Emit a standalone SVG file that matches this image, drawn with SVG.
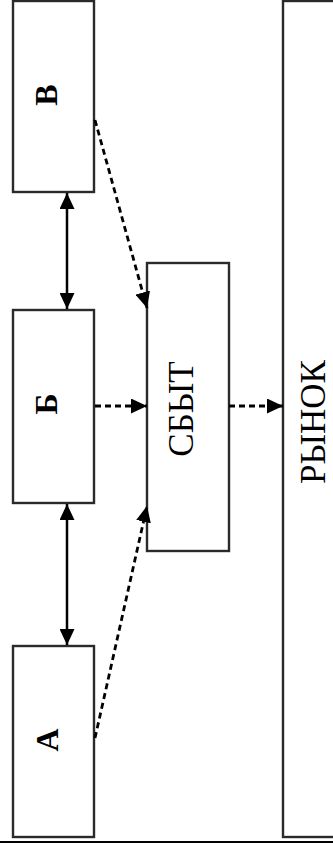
<svg xmlns="http://www.w3.org/2000/svg" width="333" height="843" viewBox="0 0 333 843">
<style>
.box{fill:#fff;stroke:#2a2a2a;stroke-width:2.4}
.lbl{font-family:"Liberation Serif","Times New Roman",serif;fill:#000;text-anchor:middle}
.b{font-weight:bold;font-size:32px}
.r{font-size:35px}
.solid{stroke:#000;stroke-width:2.5;fill:none}
.dash{stroke:#000;stroke-width:2.8;fill:none;stroke-dasharray:6 4}
</style>
<defs>
<marker id="ah" markerUnits="userSpaceOnUse" markerWidth="17" markerHeight="15" refX="16" refY="7.5" orient="auto-start-reverse" viewBox="0 0 17 15">
<path d="M0,0 L16,7.5 L0,15 Z" fill="#000"/>
</marker>
</defs>
<rect x="0" y="0" width="333" height="843" fill="#fff"/>
<g id="node-rynok">
<rect class="box" x="283" y="1" width="60" height="836"/>
<text class="lbl r" transform="translate(325,422) rotate(-90)">РЫНОК</text>
</g>
<g id="node-v">
<rect class="box" x="13" y="1" width="81" height="191"/>
<text class="lbl b" transform="translate(57,95) rotate(-90)">В</text>
</g>
<g id="node-b">
<rect class="box" x="13" y="310" width="81" height="193"/>
<text class="lbl b" transform="translate(57,404) rotate(-90)">Б</text>
</g>
<g id="node-a">
<rect class="box" x="13" y="646" width="81" height="191"/>
<text class="lbl b" transform="translate(58,740) rotate(-90)">А</text>
</g>
<g id="node-sbyt">
<rect class="box" x="147" y="263" width="82" height="288"/>
<text class="lbl r" transform="translate(193,409) rotate(-90)">СБЫТ</text>
</g>
<g id="connectors">
<line class="solid" x1="67" y1="193" x2="67" y2="309" marker-start="url(#ah)" marker-end="url(#ah)"/>
<line class="solid" x1="67" y1="504" x2="67" y2="645" marker-start="url(#ah)" marker-end="url(#ah)"/>
<line class="dash" x1="95" y1="120" x2="147" y2="308" marker-end="url(#ah)"/>
<line class="dash" x1="95" y1="406" x2="147" y2="406" marker-end="url(#ah)"/>
<line class="dash" x1="229" y1="406" x2="283" y2="406" marker-end="url(#ah)"/>
<line class="dash" x1="95" y1="738" x2="147" y2="506" marker-end="url(#ah)"/>
</g>
<rect x="0" y="841" width="333" height="2" fill="#000"/>
</svg>
